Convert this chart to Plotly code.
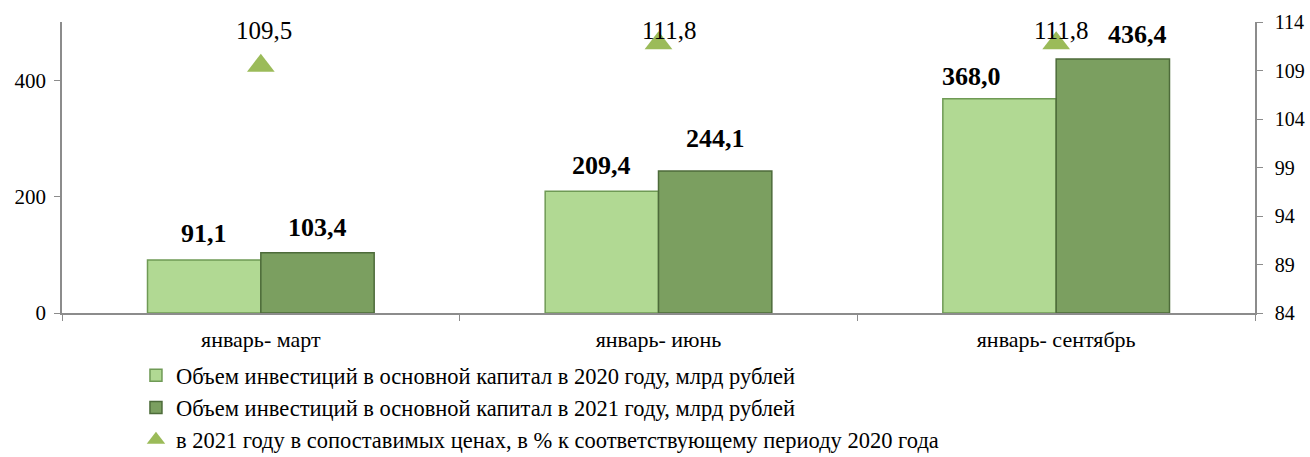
import plotly.graph_objects as go

categories = ["январь- март", "январь- июнь", "январь- сентябрь"]
vol_2020 = [91.1, 209.4, 368.0]
vol_2021 = [103.4, 244.1, 436.4]
index_pct = [109.5, 111.8, 111.8]

name_2020 = "Объем инвестиций в основной капитал в 2020 году, млрд рублей"
name_2021 = "Объем инвестиций в основной капитал в 2021 году, млрд рублей"
name_idx = "в 2021 году в сопоставимых ценах, в % к соответствующему периоду 2020 года"

def fmt(v):
    return f"{v:.1f}".replace(".", ",")

FONT = "Liberation Serif"
W, H = 1310, 457

fig = go.Figure()
fig.add_trace(go.Bar(
    x=categories, y=vol_2020, name=name_2020,
    marker=dict(color="#b1d993", line=dict(color="#6f9a55", width=1.5)),
    legendgroup="a",
))
fig.add_trace(go.Bar(
    x=categories, y=vol_2021, name=name_2021,
    marker=dict(color="#7b9f60", line=dict(color="#4d6b3a", width=1.5)),
    legendgroup="b",
))
fig.add_trace(go.Scatter(
    x=categories, y=index_pct, name=name_idx, yaxis="y2", mode="markers",
    marker=dict(symbol="triangle-up", size=24, color="#9bbb59"),
    legendgroup="c",
))

# bar value labels
xs20 = [-57, -57, -85]
ys20 = [26, 26, 22]
xs21 = [57, 57, 81]
ys21 = [25, 32, 25]
for i, c in enumerate(categories):
    fig.add_annotation(x=c, y=vol_2020[i], text=f"<b>{fmt(vol_2020[i])}</b>",
                       showarrow=False, xshift=xs20[i], yshift=ys20[i],
                       font=dict(family=FONT, size=26, color="black"))
    fig.add_annotation(x=c, y=vol_2021[i], text=f"<b>{fmt(vol_2021[i])}</b>",
                       showarrow=False, xshift=xs21[i], yshift=ys21[i],
                       font=dict(family=FONT, size=26, color="black"))

# index labels
xsi = [3, 10, 5]
ysi = [35, 13, 13]
for i, c in enumerate(categories):
    fig.add_annotation(x=c, y=index_pct[i], yref="y2", text=fmt(index_pct[i]),
                       showarrow=False, xshift=xsi[i], yshift=ysi[i],
                       font=dict(family=FONT, size=25, color="black"))

fig.update_layout(
    width=W, height=H,
    margin=dict(l=62, r=55, t=22, b=144, autoexpand=False),
    paper_bgcolor="white", plot_bgcolor="white",
    barmode="group", bargap=0.43, bargroupgap=0,
    font=dict(family=FONT, color="black"),
    showlegend=True,
    legend=dict(x=0.062, xref="paper", y=(H - 354) / H, yref="container",
                xanchor="left", yanchor="top",
                font=dict(family=FONT, size=22.5, color="black"),
                traceorder="normal", tracegroupgap=0, itemwidth=30,
                bgcolor="rgba(0,0,0,0)"),
    xaxis=dict(showline=True, linecolor="#8c8c8c", linewidth=1.5, automargin=False,
               ticks="outside", tickson="boundaries", ticklen=6, tickcolor="#8c8c8c",
               tickfont=dict(family=FONT, size=22), ticklabelstandoff=6,
               showgrid=False),
    yaxis=dict(range=[0, 500], tickvals=[0, 200, 400], showline=True, automargin=False,
               linecolor="#8c8c8c", linewidth=1.5, ticks="outside", ticklen=6,
               tickcolor="#8c8c8c", tickfont=dict(family=FONT, size=21),
               ticklabelstandoff=4, showgrid=False, zeroline=False),
    yaxis2=dict(range=[84, 114], tickvals=[84, 89, 94, 99, 104, 109, 114],
                overlaying="y", side="right", showline=True, linecolor="#8c8c8c",
                linewidth=1.5, ticks="outside", ticklen=6, tickcolor="#8c8c8c",
                tickfont=dict(family=FONT, size=20), ticklabelstandoff=8,
                automargin=False, showgrid=False, zeroline=False),
)

fig.write_html(
    "out.html",
    config={"displayModeBar": False},
    post_script="document.body.style.margin='0px';document.body.style.overflow='hidden';",
)
